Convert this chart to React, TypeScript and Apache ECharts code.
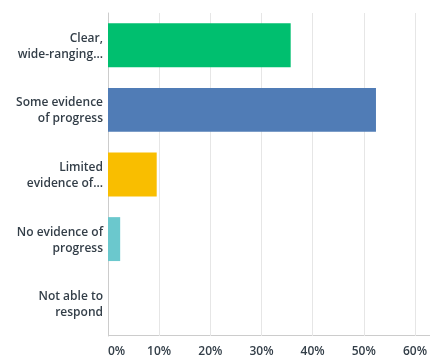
import React, { useEffect, useRef } from "react";
import * as echarts from "echarts";

const categories = [
  "Clear,\nwide-ranging...",
  "Some evidence\nof progress",
  "Limited\nevidence of...",
  "No evidence of\nprogress",
  "Not able to\nrespond",
];
const values = [35.71, 52.38, 9.52, 2.38, 0];
const colors = ["#00BF6F", "#507CB6", "#F9BE00", "#6BC8CD", "#D25F90"];
const xTicks = [0, 10, 20, 30, 40, 50, 60];

export default function App() {
  const ref = useRef<HTMLDivElement>(null);
  useEffect(() => {
    if (!ref.current) return;
    const chart = echarts.init(ref.current, null, { renderer: "svg" });
    chart.setOption({
      animation: false,
      grid: { left: 108, right: 13, top: 13, bottom: 22, containLabel: false },
      xAxis: {
        type: "value",
        min: xTicks[0],
        max: xTicks[xTicks.length - 1],
        interval: 10,
        axisLine: { show: false },
        axisTick: { show: false },
        splitLine: { show: true, lineStyle: { color: "#e6e6e6", width: 1 } },
        axisLabel: {
          formatter: (v: number) => `${v}%`,
          color: "#333e48",
          fontFamily: "Open Sans",
          fontWeight: 600,
          fontSize: 12,
          lineHeight: 12,
          margin: 8,
          alignMinLabel: "left",
        },
      },
      yAxis: {
        type: "category",
        data: categories,
        inverse: true,
        axisLine: { show: true, lineStyle: { color: "#cccccc", width: 1 } },
        axisTick: { show: false },
        splitLine: { show: false },
        axisLabel: {
          color: "#333e48",
          fontFamily: "Open Sans",
          fontWeight: 600,
          fontSize: 12,
          lineHeight: 16,
          margin: 5,
          align: "right",
        },
      },
      series: [
        {
          type: "bar",
          barCategoryGap: "32%",
          data: values.map((v, i) => ({ value: v, itemStyle: { color: colors[i] } })),
        },
      ],
      graphic: [
        {
          type: "line",
          shape: { x1: 108, y1: 335.5, x2: 430, y2: 335.5 },
          style: { stroke: "#cccccc", lineWidth: 1 },
          silent: true,
        },
      ],
    });
    return () => chart.dispose();
  }, []);
  return (
    <div
      ref={ref}
      style={{ position: "fixed", left: 0, top: 0, width: 430, height: 358 }}
    />
  );
}
